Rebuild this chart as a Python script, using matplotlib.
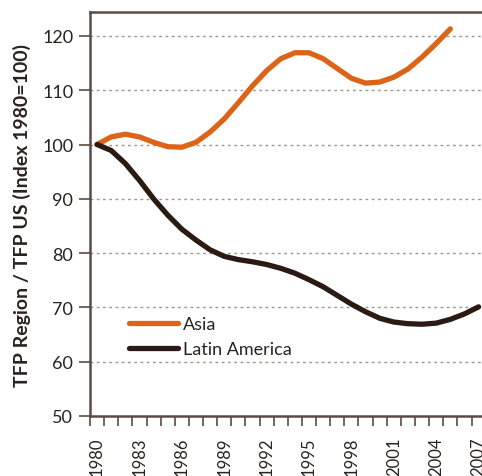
import numpy as np
import matplotlib
matplotlib.use("Agg")
import matplotlib.pyplot as plt
from matplotlib.ticker import MultipleLocator, FixedLocator

plt.rcParams["font.family"] = ["Lato", "DejaVu Sans"]

# TFP region / TFP US, index 1980 = 100
years_asia = list(range(1980, 2006))
asia = [100.0, 101.4, 101.9, 101.4, 100.4, 99.6, 99.5, 100.4, 102.3, 104.7,
        107.7, 110.8, 113.6, 115.8, 116.9, 116.9, 115.8, 114.0, 112.2, 111.3,
        111.5, 112.4, 113.9, 116.1, 118.6, 121.3]

years_latam = list(range(1980, 2008))
latam = [100.0, 98.9, 96.5, 93.4, 90.0, 87.0, 84.4, 82.4, 80.6, 79.4,
         78.8, 78.4, 77.9, 77.2, 76.3, 75.1, 73.8, 72.2, 70.6, 69.2,
         68.0, 67.3, 67.0, 66.9, 67.1, 67.8, 68.8, 70.1]

tick_years = list(range(1980, 2008, 3))
y_ticks = [50, 60, 70, 80, 90, 100, 110, 120]

ORANGE = "#dc6419"
DARK = "#2b1a12"
SPINE = "#5b4b42"
GRID = "#a39789"

fig = plt.figure(figsize=(4.82, 4.77), dpi=100)
ax = fig.add_axes([0.1867, 0.1258, 0.8133, 0.8469])

for v in y_ticks[1:]:
    ax.axhline(v, color=GRID, lw=1.0, ls=(0, (2, 2.5)), zorder=1)

ax.plot(years_asia, asia, color=ORANGE, lw=3.8, solid_capstyle="round",
        solid_joinstyle="round", label="Asia", zorder=3)
ax.plot(years_latam, latam, color=DARK, lw=3.8, solid_capstyle="round",
        solid_joinstyle="round", label="Latin America", zorder=3)

ax.set_xlim(1979.5, 2007.24)
ax.set_ylim(50, 124.4)

ax.set_yticks(y_ticks)
ax.tick_params(axis="y", length=8, width=1.2, color=SPINE, labelsize=13,
               pad=4, labelcolor="#2a2220")

ax.xaxis.set_major_locator(FixedLocator(tick_years))
ax.xaxis.set_minor_locator(FixedLocator([y - 0.5 for y in range(1980, 2009)]))
ax.tick_params(axis="x", which="major", length=0, pad=15, labelsize=12,
               labelrotation=90, labelcolor="#2a2220")
ax.tick_params(axis="x", which="minor", length=7, width=1.2, color=SPINE)

for s in ["left", "top", "bottom"]:
    ax.spines[s].set_color(SPINE)
    ax.spines[s].set_linewidth(1.8)
ax.spines["right"].set_visible(False)

ax.set_ylabel("TFP Region / TFP US (Index 1980=100)", fontsize=14,
              fontweight="bold", color="#2a2220", labelpad=8)

ax.legend(loc="lower left", bbox_to_anchor=(0.076, 0.123), frameon=False,
          fontsize=13, handlelength=2.7, handletextpad=0.3, labelspacing=0.5,
          borderpad=0, labelcolor="#2a2220")

fig.savefig("out.png", dpi=100)
